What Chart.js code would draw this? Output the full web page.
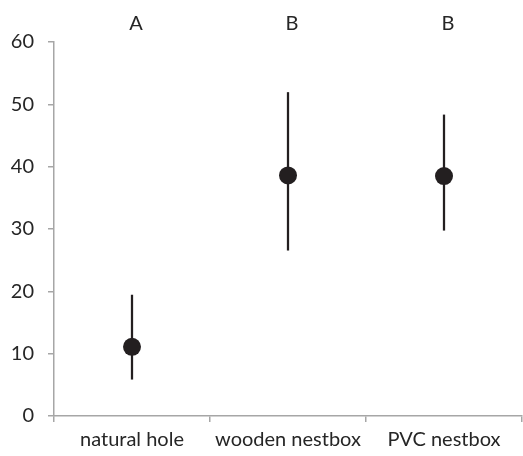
<!DOCTYPE html>
<html lang="en">
<head>
    <meta charset="UTF-8" />
    <title>Nest type</title>
    <script src="https://cdn.jsdelivr.net/npm/chart.js"></script>
    <style>
        * { box-sizing: border-box; margin: 0; padding: 0; }
        body { background: #fff; }
        .chart-wrap { width: 523px; height: 456px; position: relative; }
    </style>
</head>
<body>
    <div class="chart-wrap"><canvas id="nestChart"></canvas></div>

    <script>
        // data
        const categories = ['natural hole', 'wooden nestbox', 'PVC nestbox'];
        const groupLetters = ['A', 'B', 'B'];
        const means = [11.1, 38.6, 38.5];
        const lower = [5.9, 26.6, 29.8];
        const upper = [19.4, 51.9, 48.3];
        const yTicks = [0, 10, 20, 30, 40, 50, 60];

        const FONT = 'Lato, sans-serif';
        const TEXT = '#262626';
        const AXIS = '#a6a6a6';

        const ctx = document.getElementById('nestChart').getContext('2d');
        new Chart(ctx, {
            data: {
                labels: categories,
                datasets: [
                    {
                        type: 'line',
                        data: means,
                        showLine: false,
                        pointRadius: 9,
                        pointBackgroundColor: '#231f20',
                        pointBorderWidth: 0,
                        clip: false,
                        order: 0
                    },
                    {
                        type: 'bar',
                        data: lower.map((lo, i) => [lo, upper[i]]),
                        backgroundColor: '#231f20',
                        barThickness: 1.6,
                        order: 1
                    }
                ]
            },
            options: {
                responsive: true,
                maintainAspectRatio: false,
                animation: false,
                layout: { padding: { top: 0, right: 1, bottom: 0, left: 0 }, autoPadding: false },
                plugins: {
                    legend: { display: false },
                    tooltip: { enabled: false }
                },
                scales: {
                    x: {
                        type: 'category',
                        offset: true,
                        grid: { offset: true, drawOnChartArea: false, color: AXIS, tickLength: 6, lineWidth: 1.5 },
                        border: { color: AXIS, width: 1.5 },
                        ticks: { color: TEXT, font: { family: FONT, size: 20 }, padding: 6, maxRotation: 0, autoSkip: false },
                        afterFit: s => { s.height = 40; s.paddingLeft = 0; s.paddingRight = 0; }
                    },
                    letters: {
                        type: 'category',
                        position: 'top',
                        labels: groupLetters,
                        offset: true,
                        grid: { display: false, drawTicks: false },
                        border: { display: false },
                        ticks: { color: TEXT, font: { family: FONT, size: 20 }, padding: 6, labelOffset: 4 },
                        afterFit: s => { s.height = 42; s.paddingLeft = 0; s.paddingRight = 0; }
                    },
                    y: {
                        min: 0,
                        max: 60,
                        afterBuildTicks: s => { s.ticks = yTicks.map(v => ({ value: v })); },
                        grid: { drawOnChartArea: false, color: AXIS, tickLength: 6, lineWidth: 1.5 },
                        border: { color: AXIS, width: 1.5 },
                        ticks: { color: TEXT, font: { family: FONT, size: 20 }, padding: 14 },
                        afterFit: s => { s.width = 54; s.paddingTop = 0; s.paddingBottom = 0; }
                    }
                }
            }
        });
    </script>
</body>
</html>
